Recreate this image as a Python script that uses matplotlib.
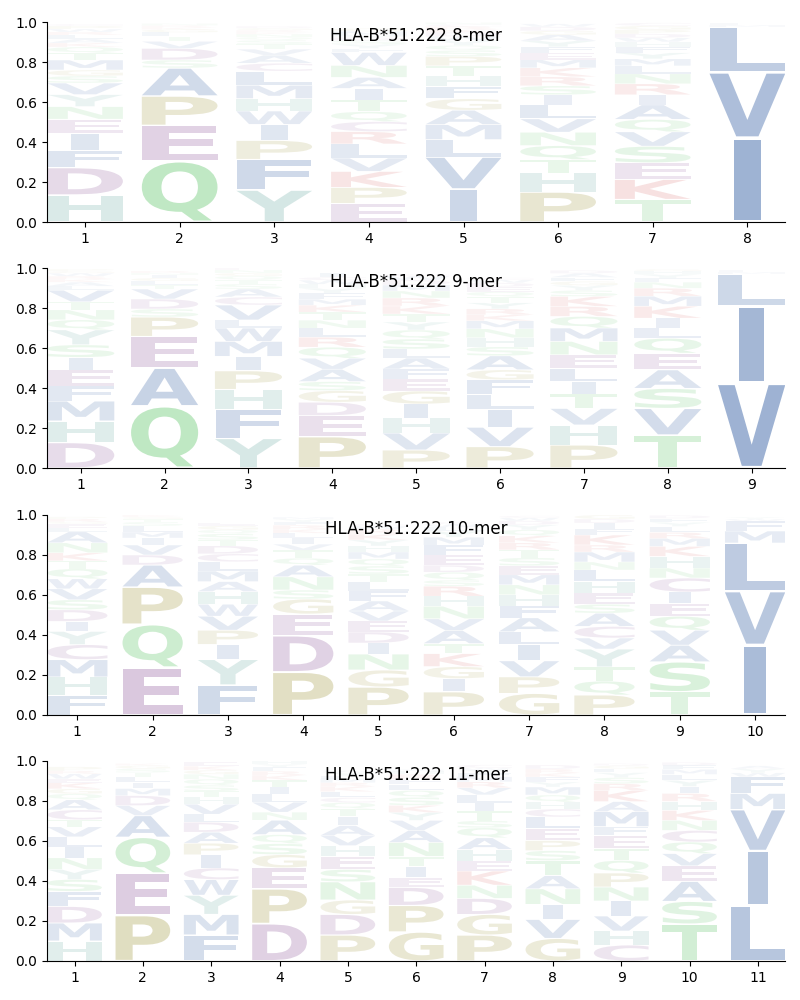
import matplotlib
matplotlib.use("Agg")
import matplotlib.pyplot as plt
from matplotlib.textpath import TextPath
from matplotlib.patches import PathPatch
from matplotlib.font_manager import FontProperties
from matplotlib.transforms import Affine2D

ALLELE = "HLA-B*51:222"
LENGTHS = [8, 9, 10, 11]

# Letters listed bottom -> top for each position, with their stacked heights
mer8_letters = [
    "HDFIENYVSGMTQKALRWPC",
    "QEPASDVTLGKRN",
    "YFPIWHMLCAVTSQNKRGD",
    "EPKVLRCQTIANWFYSDHMG",
    "IVLMAGFHTPSQYWDKRCN",
    "PHTQNVLISRKMEFYAGDW",
    "TKESVQAIRNLMYFHWDPGC",
    "IVLMF",
]
mer8_heights = [
    [.135, .137, .087, .085, .07, .063, .06, .058, .035, .03, .05, .035, .03, .02, .02, .02, .015, .015, .015, .01],
    [.305, .178, .147, .14, .04, .058, .035, .025, .02, .015, .01, .01, .01],
    [.16, .153, .095, .08, .067, .062, .067, .07, .04, .04, .03, .025, .02, .015, .015, .01, .01, .01, .01],
    [.093, .08, .08, .067, .07, .062, .05, .05, .058, .058, .055, .06, .065, .02, .02, .02, .015, .01, .02, .015],
    [.165, .16, .087, .075, .072, .057, .062, .053, .05, .047, .03, .025, .025, .02, .02, .015, .015, .01, .01],
    [.15, .095, .067, .07, .067, .067, .07, .05, .045, .045, .045, .04, .035, .03, .03, .03, .02, .02, .015],
    [.113, .1, .083, .083, .072, .062, .073, .05, .055, .05, .04, .035, .03, .03, .025, .02, .02, .02, .02, .015],
    [.42, .33, .225, .01, .01],
]

mer9_letters = [
    "DHMFEISYQNTVLAKRWGP",
    "QAEPSDVTLGINR",
    "YFHPIMWLVCASTQGNE",
    "PEDGSAVQRLNTKMFYHWCI",
    "PVHIGEFALSQYTKRNMDWC",
    "PVILFGASHNMKRYTQEDWC",
    "PHVTILENMQRKSYGFAD",
    "TVSAEQLIKMRNFYHG",
    "VILMF",
]
mer9_heights = [
    [.127, .108, .1, .075, .08, .063, .063, .075, .05, .05, .04, .058, .02, .02, .015, .015, .015, .01, .01],
    [.31, .19, .158, .097, .04, .05, .05, .02, .02, .015, .015, .01, .01],
    [.148, .145, .1, .093, .072, .075, .067, .04, .075, .04, .04, .025, .02, .02, .015, .015, .01],
    [.157, .105, .067, .058, .045, .062, .055, .055, .05, .045, .04, .04, .035, .03, .03, .025, .02, .02, .015, .02],
    [.09, .085, .075, .07, .065, .06, .05, .055, .045, .05, .045, .04, .04, .04, .04, .035, .03, .025, .02, .01],
    [.107, .097, .09, .072, .075, .05, .07, .045, .045, .045, .04, .03, .03, .03, .03, .025, .025, .02, .015, .01],
    [.115, .1, .083, .072, .062, .067, .067, .067, .067, .058, .05, .05, .03, .025, .02, .02, .02, .015],
    [.165, .133, .1, .093, .083, .075, .05, .05, .06, .05, .04, .03, .02, .02, .015, .01],
    [.425, .385, .16, .01, .01],
]

mer10_letters = [
    "FHMCYIDSVWQTKNALEGRP",
    "EQPADVIMLSTGK",
    "FYIPVWHAMLCDTSQGE",
    "PDEGSNAQTVILKRFYM",
    "PGNIDEVAFLTSQMHYKRWC",
    "PIGKTAVNHRSQDEFMYLWC",
    "GPVILAFHNMESTRKQYDWC",
    "PQTYVCASEHLNMRKFIDG",
    "TSAVQEICNHKMRLYFD",
    "IVLMFWY",
]
mer10_heights = [
    [.1, .09, .087, .075, .066, .05, .058, .05, .055, .05, .05, .04, .04, .05, .055, .02, .02, .01, .015, .01],
    [.238, .215, .187, .11, .05, .05, .035, .03, .03, .02, .015, .01, .01],
    [.15, .128, .075, .071, .07, .06, .063, .05, .053, .046, .04, .04, .03, .03, .02, .02, .015],
    [.215, .182, .108, .075, .045, .066, .058, .035, .04, .03, .03, .025, .02, .02, .015, .015, .01],
    [.14, .085, .08, .055, .055, .055, .05, .05, .05, .045, .04, .04, .035, .035, .03, .03, .03, .025, .015, .01],
    [.116, .066, .06, .065, .05, .066, .058, .063, .05, .05, .03, .04, .035, .05, .05, .04, .03, .02, .015, .01],
    [.108, .083, .08, .08, .065, .07, .06, .055, .05, .05, .045, .04, .04, .035, .035, .03, .025, .02, .015, .01],
    [.1, .07, .07, .09, .055, .058, .066, .045, .055, .058, .058, .04, .05, .035, .05, .03, .03, .02, .02],
    [.116, .15, .083, .075, .07, .063, .058, .07, .05, .058, .05, .04, .03, .03, .02, .02, .015],
    [.35, .27, .24, .06, .05, .01, .01],
]

mer11_letters = [
    "HMDFSYNILVTCAQGKEWRP",
    "PEQAVDMILTSGK",
    "FMYWCIPADLVHTSQNGKE",
    "DPEGSQANVLITKRFYH",
    "PDGNSEHVAITQCLKRMFYW",
    "GPDEITNAVYKSQLFRHM",
    "PGDNKEHAQSTILVRMFYWC",
    "GVINATSPELCHQMYFKRD",
    "CHVINPQTEFMAKRSYLGD",
    "TSAEVQCNKHRIYLMFD",
    "LIVMFWYA",
]
mer11_heights = [
    [.1, .09, .083, .075, .06, .05, .058, .055, .05, .05, .035, .05, .05, .03, .025, .03, .02, .025, .015, .02],
    [.229, .21, .18, .108, .05, .05, .035, .03, .03, .02, .02, .015, .01],
    [.13, .103, .096, .078, .058, .066, .058, .055, .05, .04, .05, .035, .03, .03, .03, .025, .02, .02, .02],
    [.187, .174, .105, .066, .055, .045, .072, .04, .05, .04, .035, .035, .025, .02, .02, .015, .015],
    [.13, .103, .072, .091, .062, .066, .053, .05, .05, .045, .04, .03, .025, .03, .025, .02, .02, .015, .015, .01],
    [.145, .133, .09, .05, .055, .05, .07, .06, .05, .04, .035, .04, .035, .03, .025, .025, .015, .01],
    [.13, .103, .08, .066, .071, .05, .058, .058, .05, .035, .05, .04, .04, .035, .03, .025, .02, .015, .01, .015],
    [.113, .095, .075, .078, .066, .075, .05, .05, .06, .058, .04, .035, .035, .04, .025, .025, .02, .02, .02],
    [.08, .07, .075, .075, .07, .07, .063, .058, .066, .045, .075, .05, .055, .035, .03, .025, .02, .015, .01],
    [.185, .113, .1, .078, .061, .058, .058, .05, .05, .045, .04, .035, .03, .03, .025, .02, .015],
    [.277, .274, .207, .08, .083, .02, .02, .015],
]

PANELS = [
    (mer8_letters, mer8_heights),
    (mer9_letters, mer9_heights),
    (mer10_letters, mer10_heights),
    (mer11_letters, mer11_heights),
]

# amino-acid colour groups
GROUP_OF = {}
for aa in "AVLIMFW":
    GROUP_OF[aa] = "hydrophobic"
for aa in "QNST":
    GROUP_OF[aa] = "polar"
for aa in "DEC":
    GROUP_OF[aa] = "acidic"
for aa in "PG":
    GROUP_OF[aa] = "special"
for aa in "HY":
    GROUP_OF[aa] = "aromatic"
for aa in "KR":
    GROUP_OF[aa] = "basic"
GROUP_COLOR = {
    "hydrophobic": "#22519b",
    "polar": "#4cbe57",
    "acidic": "#824690",
    "special": "#968c28",
    "aromatic": "#46968c",
    "basic": "#d24646",
}

FP = FontProperties(family="DejaVu Sans", weight="bold")
_glyphs = {}


def glyph(c):
    if c not in _glyphs:
        p = TextPath((0, 0), c, size=1, prop=FP)
        _glyphs[c] = (p, p.get_extents())
    return _glyphs[c]


def draw_letter(ax, c, x, y0, h, width=0.8, vpad=0.05):
    path, bb = glyph(c)
    _, ebb = glyph("E")
    hs = min(width / bb.width, width / ebb.width)
    cw = hs * bb.width
    shift = (width - cw) / 2
    vs = h * (1 - vpad) / bb.height
    tr = (Affine2D().translate(-bb.x0, -bb.y0).scale(hs, vs)
          .translate(x - width / 2 + shift, y0 + h * vpad / 2))
    alpha = min(1.0, 0.8 * h ** 0.7)
    ax.add_patch(PathPatch(tr.transform_path(path),
                           facecolor=GROUP_COLOR[GROUP_OF[c]],
                           edgecolor="none", alpha=alpha))


fig = plt.figure(figsize=(8, 10), dpi=100)
bottoms = [0.778, 0.532, 0.285, 0.039]

for (letters, heights), L, b in zip(PANELS, LENGTHS, bottoms):
    ax = fig.add_axes([0.059, b, 0.9225, 0.2])
    for pos, (col_letters, col_heights) in enumerate(zip(letters, heights), start=1):
        y = 0.0
        for c, h in zip(col_letters, col_heights):
            draw_letter(ax, c, pos, y, h)
            y += h
    ax.set_xlim(0.6, L + 0.4)
    ax.set_ylim(0, 1)
    ax.set_xticks(range(1, L + 1))
    ax.set_yticks([0, 0.2, 0.4, 0.6, 0.8, 1.0])
    ax.set_yticklabels(["0.0", "0.2", "0.4", "0.6", "0.8", "1.0"])
    ax.spines["top"].set_visible(False)
    ax.spines["right"].set_visible(False)
    ax.text(0.5, 0.93, f"{ALLELE} {L}-mer", transform=ax.transAxes,
            ha="center", va="center", fontsize=12)

fig.savefig("out.png", dpi=100)
